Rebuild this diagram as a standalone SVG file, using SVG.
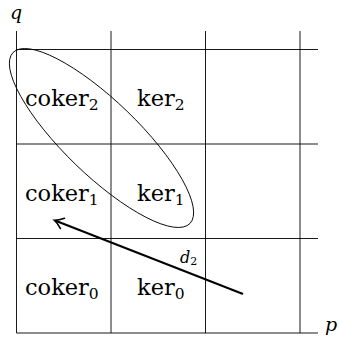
<svg xmlns="http://www.w3.org/2000/svg" width="339" height="344" viewBox="0 0 339 344">
<style>
.grid line{stroke:#000;stroke-width:0.9}
.lbl{font-size:22.5px;fill:#000}
.sub{font-size:15.5px}
.it{font-style:italic;fill:#000}
</style>
<defs>
<marker id="arr" markerUnits="userSpaceOnUse" markerWidth="20" markerHeight="20" refX="0" refY="0" viewBox="-12 -10 14 20" orient="auto" overflow="visible">
<path d="M -8,-5.5 Q -3,-1.2 0.5,0 Q -3,1.2 -8,5.5" fill="none" stroke="#000" stroke-width="1.6" stroke-linecap="round"/>
</marker>
</defs>
<g id="grid" class="grid">
<line x1="16.5" y1="31" x2="16.5" y2="333"/>
<line x1="111" y1="31" x2="111" y2="333"/>
<line x1="205.5" y1="31" x2="205.5" y2="333"/>
<line x1="300" y1="31" x2="300" y2="333"/>
<line x1="16.5" y1="49.5" x2="318" y2="49.5"/>
<line x1="16.5" y1="144" x2="318" y2="144"/>
<line x1="16.5" y1="238.5" x2="318" y2="238.5"/>
<line x1="16.5" y1="333" x2="318" y2="333"/>
</g>
<g font-family="'DejaVu Serif', serif">
<g id="axis-labels">
<text class="it" x="10" y="19" font-size="19">q</text>
<text class="it" x="325" y="331" font-size="19">p</text>
</g>
<g id="coker2"><text class="lbl" x="25" y="106">coker<tspan class="sub" dy="4">2</tspan></text></g>
<g id="ker2"><text class="lbl" x="137" y="106">ker<tspan class="sub" dy="4">2</tspan></text></g>
<g id="coker1"><text class="lbl" x="25" y="200.5">coker<tspan class="sub" dy="4">1</tspan></text></g>
<g id="ker1"><text class="lbl" x="137" y="200.5">ker<tspan class="sub" dy="4">1</tspan></text></g>
<g id="coker0"><text class="lbl" x="25" y="295">coker<tspan class="sub" dy="4">0</tspan></text></g>
<g id="ker0"><text class="lbl" x="137" y="295">ker<tspan class="sub" dy="4">0</tspan></text></g>
</g>
<g id="ellipse">
<ellipse cx="101.5" cy="138" rx="123" ry="37" transform="rotate(44 101.5 138)" fill="none" stroke="#000" stroke-width="0.9"/>
</g>
<g id="connectors">
<line x1="243" y1="294" x2="55" y2="220.5" stroke="#000" stroke-width="2" marker-end="url(#arr)"/>
<text class="it" x="180" y="263" font-size="16" font-family="'DejaVu Serif', serif">d<tspan font-style="normal" font-size="11" dy="2">2</tspan></text>
</g>
</svg>
